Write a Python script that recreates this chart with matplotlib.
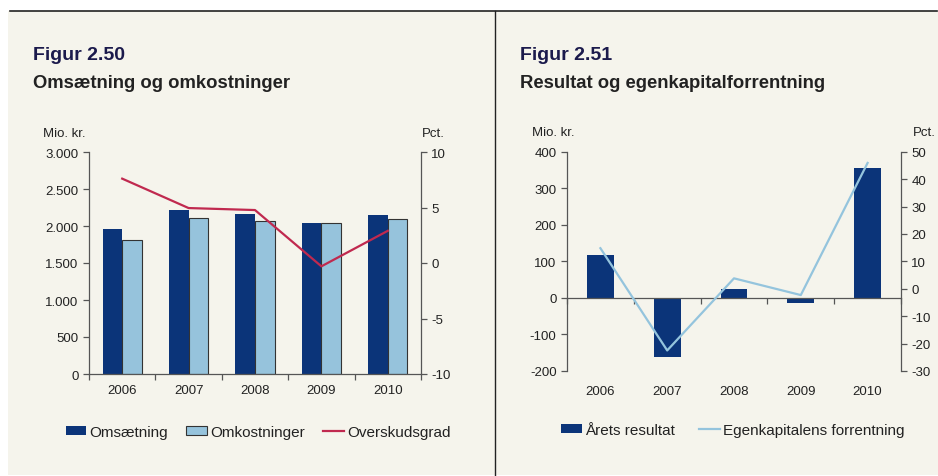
import numpy as np
import matplotlib.pyplot as plt
from matplotlib.patches import Rectangle
from matplotlib.lines import Line2D
from matplotlib.ticker import FuncFormatter

plt.rcParams['font.family'] = ['Liberation Sans', 'DejaVu Sans']
plt.rcParams['axes.unicode_minus'] = False

years = ['2006', '2007', '2008', '2009', '2010']

# Figur 2.50
omsaetning = [1960, 2216, 2162, 2040, 2149]     # mio. kr.
omkostninger = [1815, 2108, 2063, 2036, 2090]   # mio. kr.
overskudsgrad = [7.6, 4.95, 4.77, -0.3, 2.9]    # pct.

# Figur 2.51
aarets_resultat = [117, -161, 25, -13, 355]     # mio. kr.
ek_forrentning = [14.8, -22.5, 3.8, -2.3, 45.9] # pct.

navy = '#0b3479'
light = '#96c3dc'
red = '#c0294f'
lineblue = '#94c4dd'
bg = '#f5f4ec'
spine_col = '#555555'
txt = '#222222'
tick_fs = 9.5

W, H = 938, 477
fig = plt.figure(figsize=(W / 100, H / 100), dpi=100)
fig.patch.set_facecolor('white')

def fx(px):
    return px / W

def fy(py):
    return 1 - py / H

# beige panel, top rule and divider
fig.patches.append(Rectangle((fx(8), fy(476)), fx(930), 464 / H,
                             transform=fig.transFigure, facecolor=bg, edgecolor='none', zorder=-10))
fig.lines.append(Line2D([fx(10), fx(937)], [fy(12), fy(12)], transform=fig.transFigure,
                        color='#222222', lw=1.2, zorder=-5))
fig.lines.append(Line2D([fx(495), fx(495)], [fy(12), fy(476)], transform=fig.transFigure,
                        color='#222222', lw=1.0, zorder=-5))

thousands = FuncFormatter(lambda v, p: f"{v:,.0f}".replace(",", "."))
x = np.arange(len(years))


def style_axes(ax):
    ax.set_facecolor('none')
    ax.spines['top'].set_visible(False)
    for s in ['left', 'right', 'bottom']:
        ax.spines[s].set_color(spine_col)
        ax.spines[s].set_linewidth(0.9)
    ax.tick_params(axis='both', direction='out', length=4, width=0.9,
                   color=spine_col, labelsize=tick_fs, labelcolor=txt)


# ---------- left chart ----------
ax1 = fig.add_axes([fx(89), fy(375), fx(332), 222 / H])
style_axes(ax1)
w = 0.295
ax1.bar(x - w / 2, omsaetning, width=w, color=navy, edgecolor='none', zorder=2,
        label='Omsætning')
ax1.bar(x + w / 2, omkostninger, width=w, color=light, edgecolor='#333333', linewidth=0.8,
        zorder=2, label='Omkostninger')
ax1.set_xlim(-0.5, len(years) - 0.5)
ax1.set_ylim(0, 3000)
ax1.set_yticks(np.arange(0, 3001, 500))
ax1.yaxis.set_major_formatter(thousands)
ax1.set_xticks(np.arange(-0.5, len(years)))
ax1.set_xticklabels([])
ax1.set_xticks(x, minor=True)
ax1.set_xticklabels(years, minor=True)
ax1.tick_params(axis='x', which='minor', length=0, pad=7, labelsize=tick_fs, labelcolor=txt)
ax1.spines['right'].set_visible(False)

ax1b = ax1.twinx()
style_axes(ax1b)
ax1b.spines['left'].set_visible(False)
ax1b.spines['bottom'].set_visible(False)
ax1b.plot(x, overskudsgrad, color=red, lw=1.6, zorder=3, label='Overskudsgrad')
ax1b.set_ylim(-10, 10)
ax1b.set_yticks(np.arange(-10, 11, 5))

fig.text(fx(33), fy(56), 'Figur 2.50', fontsize=14, fontweight='bold', color='#1b1a4c',
         va='center', ha='left')
fig.text(fx(33), fy(84), 'Omsætning og omkostninger', fontsize=13.3, fontweight='bold',
         color=txt, va='center', ha='left')
fig.text(fx(64), fy(134), 'Mio. kr.', fontsize=9.5, color=txt, ha='center', va='center')
fig.text(fx(433), fy(134), 'Pct.', fontsize=9.5, color=txt, ha='center', va='center')

h1, l1 = ax1.get_legend_handles_labels()
h2, l2 = ax1b.get_legend_handles_labels()
fig.legend(h1 + h2, l1 + l2, loc='center', bbox_to_anchor=(fx(258), fy(433)), ncol=3,
           frameon=False, fontsize=11, handlelength=1.35, handleheight=0.6,
           handletextpad=0.2, columnspacing=1.2, labelcolor=txt)

# ---------- right chart ----------
ax2 = fig.add_axes([fx(567), fy(372), fx(334), 219.3 / H])
style_axes(ax2)
ax2.bar(x, aarets_resultat, width=0.4, color=navy, edgecolor='none', zorder=2,
        label='Årets resultat')
ax2.set_xlim(-0.5, len(years) - 0.5)
ax2.set_ylim(-200, 400)
ax2.set_yticks(np.arange(-200, 401, 100))
ax2.spines['bottom'].set_position(('data', 0))
ax2.spines['right'].set_visible(False)
ax2.set_xticks(np.arange(-0.5, len(years)))
ax2.set_xticklabels([])
for xi, yr in zip(x, years):
    ax2.text(xi, -0.09, yr, transform=ax2.get_xaxis_transform(), ha='center', va='center',
             fontsize=tick_fs, color=txt)

ax2b = ax2.twinx()
style_axes(ax2b)
ax2b.spines['left'].set_visible(False)
ax2b.spines['bottom'].set_visible(False)
ax2b.plot(x, ek_forrentning, color=lineblue, lw=1.6, zorder=3,
          label='Egenkapitalens forrentning')
ax2b.set_ylim(-30, 50)
ax2b.set_yticks(np.arange(-30, 51, 10))

fig.text(fx(520), fy(56), 'Figur 2.51', fontsize=14, fontweight='bold', color='#1b1a4c',
         va='center', ha='left')
fig.text(fx(520), fy(84), 'Resultat og egenkapitalforrentning', fontsize=13.3,
         fontweight='bold', color=txt, va='center', ha='left')
fig.text(fx(553), fy(133), 'Mio. kr.', fontsize=9.5, color=txt, ha='center', va='center')
fig.text(fx(936), fy(133), 'Pct.', fontsize=9.5, color=txt, ha='right', va='center')

h1, l1 = ax2.get_legend_handles_labels()
h2, l2 = ax2b.get_legend_handles_labels()
fig.legend(h1 + h2, l1 + l2, loc='center', bbox_to_anchor=(fx(733), fy(431)), ncol=2,
           frameon=False, fontsize=11, handlelength=1.35, handleheight=0.6,
           handletextpad=0.2, columnspacing=1.6, labelcolor=txt)

fig.savefig('out.png', dpi=100)
